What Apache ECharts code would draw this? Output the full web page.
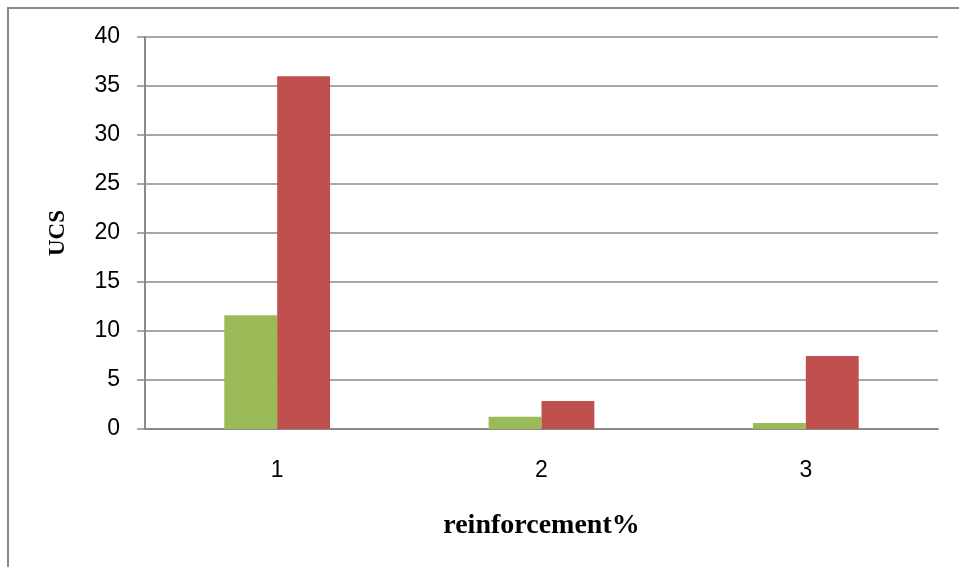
<!DOCTYPE html>
<html>
<head>
<meta charset="utf-8">
<script src="https://cdn.jsdelivr.net/npm/echarts@6/dist/echarts.min.js"></script>
<style>html,body{margin:0;padding:0;background:#fff;}#c{width:959px;height:567px;}</style>
</head>
<body>
<div id="c"></div>
<script>
var categories = ['1', '2', '3'];
var greenValues = [11.6, 1.25, 0.6];
var redValues = [36, 2.85, 7.45];
var yTicks = [0, 5, 10, 15, 20, 25, 30, 35, 40];

var chart = echarts.init(document.getElementById('c'), null, {renderer: 'canvas'});
chart.setOption({
  backgroundColor: '#fff',
  animation: false,
  graphic: [{
    type: 'rect',
    shape: {x: 8, y: 8, width: 1200, height: 1200},
    style: {fill: 'none', stroke: '#8a8a8a', lineWidth: 2},
    silent: true
  }],
  grid: {left: 145, right: 21, top: 37, bottom: 138, containLabel: false},
  xAxis: {
    type: 'category',
    data: categories,
    name: 'reinforcement%',
    nameLocation: 'middle',
    nameGap: 83,
    nameTextStyle: {fontFamily: 'Liberation Serif', fontWeight: 'bold', fontSize: 28, color: '#000'},
    axisLine: {lineStyle: {color: '#8a8a8a', width: 2}},
    axisTick: {show: false},
    axisLabel: {fontFamily: 'Liberation Sans', fontSize: 23, color: '#000', margin: 30}
  },
  yAxis: {
    type: 'value',
    min: 0,
    max: 40,
    interval: 5,
    name: 'UCS',
    nameLocation: 'middle',
    nameGap: 75,
    nameRotate: 90,
    nameTextStyle: {fontFamily: 'Liberation Serif', fontWeight: 'bold', fontSize: 23, color: '#000'},
    axisLine: {show: true, lineStyle: {color: '#8a8a8a', width: 2}},
    axisTick: {show: true, length: 8, lineStyle: {color: '#8a8a8a', width: 1.5}},
    axisLabel: {fontFamily: 'Liberation Sans', fontSize: 23, color: '#000', margin: 25,
      formatter: function (v) { return yTicks.indexOf(v) >= 0 ? String(v) : ''; }},
    splitLine: {show: true, lineStyle: {color: '#8a8a8a', width: 1.5}}
  },
  series: [{
    type: 'bar',
    data: greenValues,
    barGap: '0%',
    barCategoryGap: '60%',
    itemStyle: {color: '#9BBB59'}
  }, {
    type: 'bar',
    data: redValues,
    barGap: '0%',
    barCategoryGap: '60%',
    itemStyle: {color: '#C0504D'}
  }]
});
</script>
</body>
</html>
